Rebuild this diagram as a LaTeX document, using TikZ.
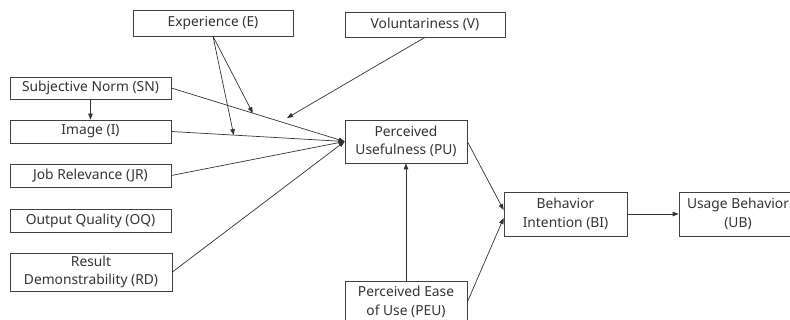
\documentclass[tikz,border=0pt]{standalone}
\usepackage{fontspec}
\setmainfont{Noto Sans}
\usetikzlibrary{arrows.meta,calc}
\tikzset{
  box/.style={draw=black!75, line width=0.7pt, inner sep=0pt, align=center,
    font=\fontsize{13.8}{18.5}\selectfont, text=black!80},
  flow/.style={draw=black!80, line width=0.7pt, -{Triangle[length=6pt,width=4.5pt]}}
}
\begin{document}
\begin{tikzpicture}[x=1pt,y=-1pt] %modelo TAM2
    \useasboundingbox (0,0) rectangle (790,320);

    \node[box, minimum width=160pt, minimum height=26pt] (E) at (213,23) {Experience (E)};
    \node[box, minimum width=160pt, minimum height=25pt] (V) at (425,24.5) {Voluntariness (V)};
    \node[box, minimum width=161pt, minimum height=22pt] (SN) at (90.5,88) {Subjective Norm (SN)};
    \node[box, minimum width=161pt, minimum height=23pt] (I) at (90.5,131.5) {Image (I)};
    \node[box, minimum width=161pt, minimum height=23pt] (JR) at (90.5,175.5) {Job Relevance (JR)};
    \node[box, minimum width=161pt, minimum height=23pt] (OQ) at (90.5,220.5) {Output Quality (OQ)};
    \node[box, minimum width=162pt, minimum height=38pt] (RD) at (91,272) {Result\\Demonstrability (RD)};
    \node[box, minimum width=122pt, minimum height=43pt] (PU) at (406,141.5) {Perceived\\Usefulness (PU)};
    \node[box, minimum width=122pt, minimum height=42pt] (PEU) at (406,302) {Perceived Ease\\of Use (PEU)};
    \node[box, minimum width=123pt, minimum height=44pt] (BI) at (565.5,214) {Behavior\\Intention (BI)};
    \node[box, minimum width=118pt, minimum height=44pt] (UB) at (738,214) {Usage Behavior\\(UB)};

    \coordinate (snmod) at ($(SN.east)!0.47!(PU.west)$);
    \coordinate (imod) at ($(I.east)!0.36!(PU.west)$);
    \coordinate (vmod) at (287,118);

    \draw[flow] (SN.south) -- (I.north);
    \draw[flow] (SN.east) -- (PU.west);
    \draw[flow] (I.east) -- (PU.west);
    \draw[flow] (JR.east) -- (PU.west);
    \draw[flow] (RD.east) -- (PU.west);
    \draw[flow] (E.south) -- (snmod);
    \draw[flow] (E.south) -- (imod);
    \draw[flow] (V.south) -- (vmod);
    \draw[flow] (PU.east) -- ([yshift=4pt]BI.west);
    \draw[flow] (PEU.east) -- ([yshift=-4pt]BI.west);
    \draw[flow] (PEU.north) -- (PU.south);
    \draw[flow] (BI.east) -- (UB.west);
\end{tikzpicture}
\end{document}
